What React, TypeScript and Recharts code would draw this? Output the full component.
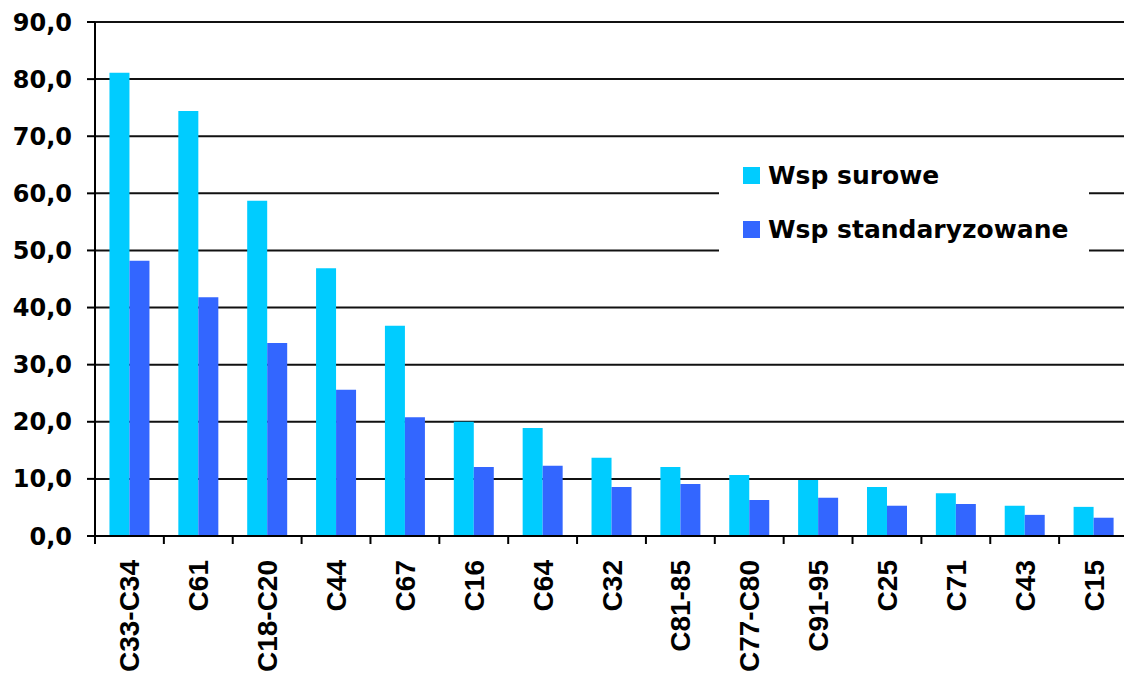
import React from 'react';
import { BarChart, Bar, XAxis, YAxis, CartesianGrid, Legend } from 'recharts';

const categories = ['C33-C34', 'C61', 'C18-C20', 'C44', 'C67', 'C16', 'C64', 'C32', 'C81-85', 'C77-C80', 'C91-95', 'C25', 'C71', 'C43', 'C15'];
const surowe = [81.1, 74.4, 58.7, 46.9, 36.8, 20.0, 18.9, 13.7, 12.1, 10.7, 9.8, 8.6, 7.5, 5.3, 5.1];
const standaryzowane = [48.2, 41.8, 33.8, 25.6, 20.8, 12.1, 12.3, 8.6, 9.1, 6.3, 6.7, 5.3, 5.6, 3.7, 3.2];
const yTicks = [0, 10, 20, 30, 40, 50, 60, 70, 80, 90];

const seriesNames = ['Wsp surowe', 'Wsp standaryzowane'];
const seriesColors = ['#00CCFF', '#3366FF'];

const data = categories.map((c, i) => ({ name: c, surowe: surowe[i], standard: standaryzowane[i] }));

const XTick = (props: any) => {
  const { x, y, payload } = props;
  const off = payload && typeof payload.offset === 'number' ? payload.offset : 34.4;
  return (
    <g>
      <line x1={x - off} y1={y} x2={x - off} y2={y + 8} stroke="#000" strokeWidth={2} />
      <g transform={`translate(${x},${y + 24})`}>
        <text
          x={0}
          y={0}
          dy={10}
          textAnchor="end"
          transform="rotate(-90)"
          fontFamily="'Liberation Sans', Arial, sans-serif"
          fontWeight="bold"
          fontSize={28}
          fill="#000"
        >
          {payload.value}
        </text>
      </g>
    </g>
  );
};

const renderLegend = () => (
  <div style={{ width: 370, height: 112, background: '#fff', position: 'relative' }}>
    {seriesNames.map((n, i) => (
      <div
        key={n}
        style={{
          position: 'absolute',
          left: 24,
          top: 24 + i * 54,
          display: 'flex',
          alignItems: 'center',
          height: 17,
        }}
      >
        <div style={{ width: 17, height: 17, background: seriesColors[i], marginRight: 8 }} />
        <span
          style={{
            fontFamily: "'DejaVu Sans', Verdana, sans-serif",
            fontWeight: 'bold',
            fontSize: 25,
            color: '#000',
            whiteSpace: 'nowrap',
            lineHeight: '17px',
          }}
        >
          {n}
        </span>
      </div>
    ))}
  </div>
);

export default function App() {
  return (
    <div style={{ position: 'absolute', left: 0, top: 0, width: 1124, height: 679, overflow: 'hidden', background: '#fff' }}>
      <BarChart
        width={1128}
        height={679}
        data={data}
        margin={{ top: 22, right: 0, left: 0, bottom: 0 }}
        barCategoryGap="21%"
        barGap={0}
      >
        <CartesianGrid vertical={false} stroke="#111" strokeWidth={2} />
        <XAxis
          dataKey="name"
          height={143}
          tickLine={false}
          tickSize={0}
          tickMargin={0}
          axisLine={{ stroke: '#000', strokeWidth: 2 }}
          tick={<XTick />}
          interval={0}
        />
        <YAxis
          width={95}
          domain={[0, 90]}
          ticks={yTicks}
          interval={0}
          tickSize={8}
          tickMargin={15}
          tickFormatter={(v: number) => v.toFixed(1).replace('.', ',')}
          axisLine={{ stroke: '#000', strokeWidth: 2 }}
          tickLine={{ stroke: '#000', strokeWidth: 2 }}
          tick={{ fill: '#000', fontFamily: "'DejaVu Sans', Verdana, sans-serif", fontWeight: 'bold', fontSize: 24 }}
        />
        <Legend
          layout="vertical"
          align="center"
          verticalAlign="middle"
          content={renderLegend}
          wrapperStyle={{ position: 'absolute', left: 719, top: 143, width: 370, height: 112 }}
        />
        <Bar dataKey="surowe" name={seriesNames[0]} fill={seriesColors[0]} isAnimationActive={false} />
        <Bar dataKey="standard" name={seriesNames[1]} fill={seriesColors[1]} isAnimationActive={false} />
      </BarChart>
    </div>
  );
}
